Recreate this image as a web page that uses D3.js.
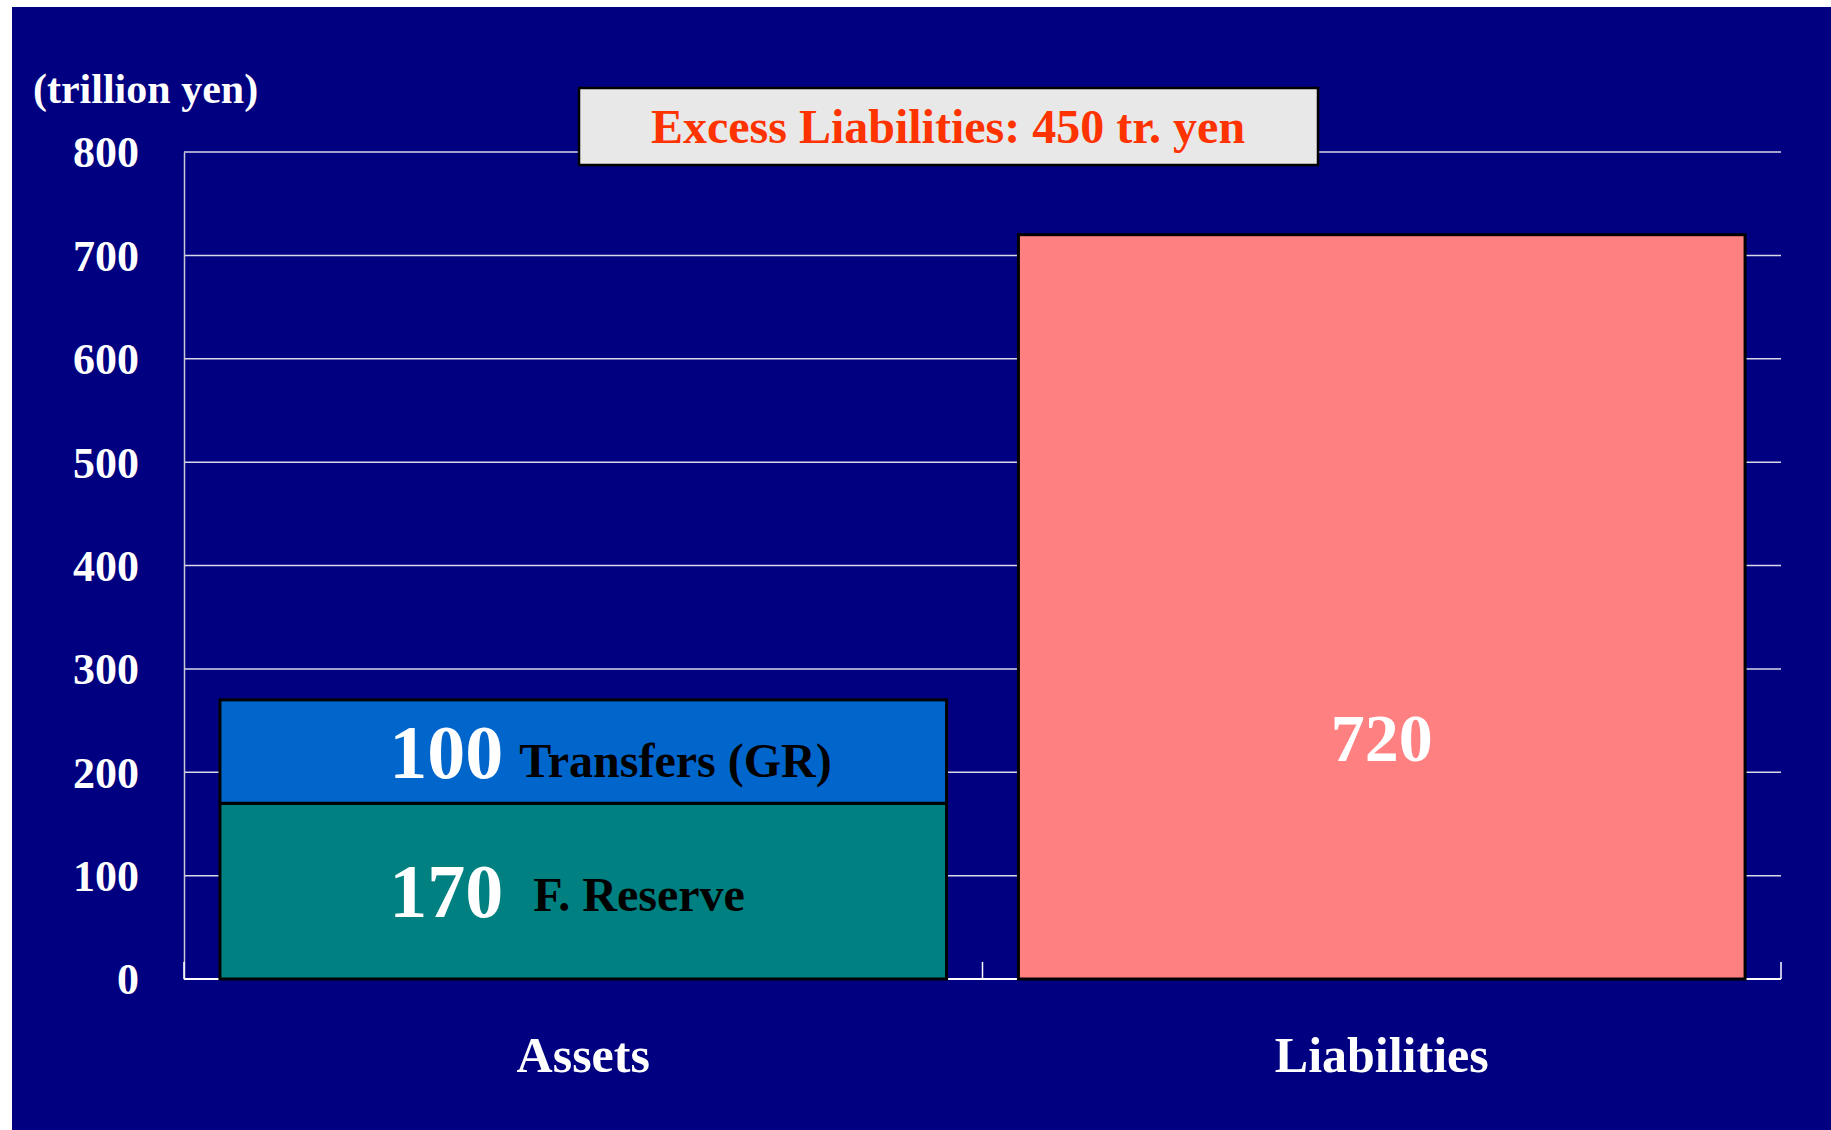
<!DOCTYPE html>
<html>
<head>
<meta charset="utf-8">
<script src="https://cdn.jsdelivr.net/npm/d3@7"></script>
<style>
  body { margin: 0; background: #fff; }
  text { font-family: "Liberation Serif", "Times New Roman", serif; font-weight: bold; }
</style>
</head>
<body>
<script>
// Chart data
var categories = ["Assets", "Liabilities"];
var reserveValues = [170, 0];     // F. Reserve
var transferValues = [100, 0];    // Transfers (GR)
var liabilityValues = [0, 720];   // Liabilities
var yTicks = [0, 100, 200, 300, 400, 500, 600, 700, 800];
var unitLabel = "(trillion yen)";

var seriesKeys = ["reserve", "transfers", "liabilities"];
var seriesNames = { reserve: "F. Reserve", transfers: "Transfers (GR)", liabilities: "" };
var seriesColors = { reserve: "#008080", transfers: "#0066cc", liabilities: "#ff8080" };

var width = 1831,
  height = 1130;

var svg = d3.select("body")
  .append("svg")
  .attr("width", width)
  .attr("height", height);

// navy slide background
svg.append("rect")
  .attr("x", 12)
  .attr("y", 7)
  .attr("width", width - 12)
  .attr("height", height - 7)
  .attr("fill", "#000080");

// plot frame (note: "top" is reserved on window, so use other names)
var plotLeft = 184, plotRight = 1781, plotTop = 152, plotBottom = 979;

var x = d3.scaleBand()
  .domain(categories)
  .range([plotLeft, plotRight])
  .paddingInner(0.09)
  .paddingOuter(0.045);

var y = d3.scaleLinear()
  .domain([0, 800])
  .range([plotBottom, plotTop]);

// rows for the stack
var rows = categories.map(function(c, i) {
  return { cat: c, reserve: reserveValues[i], transfers: transferValues[i], liabilities: liabilityValues[i] };
});
var stacked = d3.stack().keys(seriesKeys)(rows);

// gridlines
svg.append("g")
  .selectAll("line")
  .data(yTicks.slice(1))
  .enter()
  .append("line")
  .attr("x1", plotLeft)
  .attr("x2", plotRight)
  .attr("y1", function(d) { return y(d); })
  .attr("y2", function(d) { return y(d); })
  .attr("stroke", "#d8d8e8")
  .attr("stroke-width", 1.5);

// y axis
var yAxis = svg.append("g")
  .attr("transform", "translate(" + plotLeft + ",0)")
  .call(d3.axisLeft(y).tickValues(yTicks).tickSize(0).tickPadding(45));
yAxis.select(".domain").attr("stroke", "#c8c8d8").attr("stroke-width", 1.5);
yAxis.selectAll("text")
  .attr("fill", "#fff")
  .attr("font-size", 44)
  .attr("font-family", "Liberation Serif, Times New Roman, serif")
  .attr("font-weight", "bold")
  .attr("dy", "0.34em");

// x baseline and category boundary ticks
svg.append("line")
  .attr("x1", plotLeft).attr("x2", plotRight)
  .attr("y1", plotBottom).attr("y2", plotBottom)
  .attr("stroke", "#fff").attr("stroke-width", 2);

var step = x.step();
var bounds = [plotLeft, x(categories[0]) + x.bandwidth() + step * x.paddingInner() / 2, plotRight];
svg.append("g")
  .selectAll("line")
  .data(bounds)
  .enter()
  .append("line")
  .attr("x1", function(d) { return d; })
  .attr("x2", function(d) { return d; })
  .attr("y1", plotBottom)
  .attr("y2", plotBottom - 17)
  .attr("stroke", "#fff")
  .attr("stroke-width", 1.5);

// bars
var segs = [];
stacked.forEach(function(layer) {
  layer.forEach(function(d) {
    if (d[1] - d[0] > 0) segs.push({ key: layer.key, cat: d.data.cat, lo: d[0], hi: d[1] });
  });
});

svg.append("g")
  .selectAll("rect")
  .data(segs)
  .enter()
  .append("rect")
  .attr("x", function(d) { return x(d.cat); })
  .attr("y", function(d) { return y(d.hi); })
  .attr("width", x.bandwidth())
  .attr("height", function(d) { return y(d.lo) - y(d.hi); })
  .attr("fill", function(d) { return seriesColors[d.key]; })
  .attr("stroke", "#000")
  .attr("stroke-width", 3);

// segment value labels
var labels = svg.append("g")
  .selectAll("text")
  .data(segs)
  .enter()
  .append("text")
  .attr("y", function(d) { return y((d.lo + d.hi) / 2) + 26; });

labels.filter(function(d) { return d.key !== "liabilities"; })
  .attr("x", function(d) { return x(d.cat) + x.bandwidth() * 0.39; })
  .attr("text-anchor", "end")
  .attr("fill", "#fff")
  .attr("font-size", 76)
  .text(function(d) { return d.hi - d.lo; });

// segment names
svg.append("g")
  .selectAll("text")
  .data(segs.filter(function(d) { return d.key !== "liabilities"; }))
  .enter()
  .append("text")
  .attr("x", function(d) { return x(d.cat) + x.bandwidth() * 0.39 + (d.key === "reserve" ? 30 : 16); })
  .attr("y", function(d) { return y((d.lo + d.hi) / 2) + (d.key === "reserve" ? 20 : 25); })
  .attr("fill", "#000")
  .attr("font-size", 48)
  .text(function(d) { return seriesNames[d.key]; });

// liabilities total sits in the lower third of its bar
labels.filter(function(d) { return d.key === "liabilities"; })
  .attr("x", function(d) { return x(d.cat) + x.bandwidth() / 2; })
  .attr("y", function(d) { return y(d.hi * 0.325) + 24; })
  .attr("text-anchor", "middle")
  .attr("fill", "#fff")
  .attr("font-size", 68)
  .text(function(d) { return d.hi - d.lo; });

// category labels
svg.append("g")
  .selectAll("text")
  .data(categories)
  .enter()
  .append("text")
  .attr("x", function(d) { return x(d) + x.bandwidth() / 2; })
  .attr("y", 1072)
  .attr("text-anchor", "middle")
  .attr("fill", "#fff")
  .attr("font-size", 50)
  .text(function(d) { return d; });

// unit label
svg.append("text")
  .attr("x", 33)
  .attr("y", 103)
  .attr("fill", "#fff")
  .attr("font-size", 42)
  .text(unitLabel);

// excess liabilities box
var totalAssets = d3.sum(reserveValues) + d3.sum(transferValues);
var excess = d3.sum(liabilityValues) - totalAssets;

svg.append("rect")
  .attr("x", 579)
  .attr("y", 88)
  .attr("width", 739)
  .attr("height", 77)
  .attr("fill", "#e8e8e8")
  .attr("stroke", "#000")
  .attr("stroke-width", 2.5);

svg.append("text")
  .attr("x", 948)
  .attr("y", 143)
  .attr("text-anchor", "middle")
  .attr("fill", "#ff3300")
  .attr("font-size", 48)
  .text("Excess Liabilities: " + excess + " tr. yen");
</script>
</body>
</html>
